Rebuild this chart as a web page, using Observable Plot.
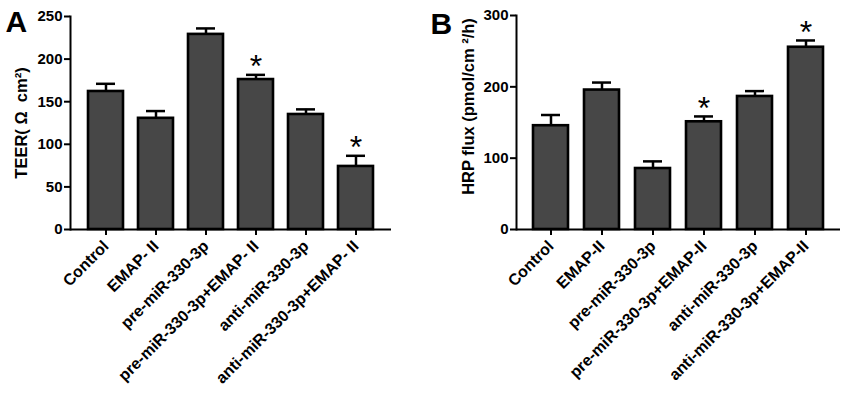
<!DOCTYPE html>
<html><head><meta charset="utf-8">
<script src="https://cdn.jsdelivr.net/npm/d3@7"></script>
<script src="https://cdn.jsdelivr.net/npm/@observablehq/plot@0.6"></script>
<style>
body{margin:0;background:#fff;}
#wrap{display:flex;width:850px;height:401px;overflow:hidden;}
#wrap svg{display:block;}
</style></head><body><div id="wrap"></div>
<script>
// Panel A: TEER
const groupsA = ["Control","EMAP- II","pre-miR-330-3p","pre-miR-330-3p+EMAP- II","anti-miR-330-3p","anti-miR-330-3p+EMAP- II"];
const teerMean  = [162, 130.5, 229, 176, 135, 74];
const teerUpper = [171, 139, 236, 181.5, 141, 86.5];
const teerSig   = [false, false, false, true, false, true];
const teerTicks = [0, 50, 100, 150, 200, 250];

// Panel B: HRP flux
const groupsB = ["Control","EMAP-II","pre-miR-330-3p","pre-miR-330-3p+EMAP-II","anti-miR-330-3p","anti-miR-330-3p+EMAP-II"];
const hrpMean  = [145.5, 195.5, 85.5, 151, 186.5, 255.5];
const hrpUpper = [160.5, 206, 95.5, 158.5, 194, 265];
const hrpSig   = [false, false, false, true, false, true];
const hrpTicks = [0, 100, 200, 300];

const FONT = "'Liberation Sans', Arial, Helvetica, sans-serif";

function panel({groups, mean, upper, sig, ticks, ymax, letter, ylabel, ml, mr, mt, labelDx, labelDy, letterDx, letterDy}) {
  const data = groups.map((g, i) => ({g, mean: mean[i], upper: upper[i], sig: sig[i]}));
  return Plot.plot({
    width: 425, height: 401,
    marginLeft: ml, marginRight: mr, marginTop: mt, marginBottom: 172,
    style: {fontFamily: FONT, fontWeight: "bold", fontSize: "15px", color: "black", background: "white", overflow: "visible"},
    x: {domain: groups, padding: 0.31, label: null},
    y: {domain: [0, ymax], label: null},
    marks: [
      Plot.ruleX(data, {x: "g", y1: "mean", y2: "upper", stroke: "black", strokeWidth: 2.5}),
      Plot.tickY(data, {x: "g", y: "upper", stroke: "black", strokeWidth: 2.5, insetLeft: 8, insetRight: 8}),
      Plot.barY(data, {x: "g", y: "mean", fill: "#474747", stroke: "black", strokeWidth: 2.6}),
      Plot.ruleY([0], {stroke: "black", strokeWidth: 2}),
      Plot.frame({anchor: "left", stroke: "black", strokeWidth: 2}),
      Plot.axisY({ticks, tickSize: 6, tickPadding: 2, strokeWidth: 2, label: null, fontWeight: "bold", fontSize: 15}),
      Plot.axisX({tickSize: 6, tickPadding: 8, tickRotate: -45, strokeWidth: 2, label: null, fontWeight: "bold", fontSize: 16}),
      Plot.text(data.filter(d => d.sig), {x: "g", y: "upper", text: () => "*", dy: -8, fontSize: 32, fontWeight: "normal", fill: "black"}),
      Plot.text([ylabel], {frameAnchor: "left", textAnchor: "middle", rotate: -90, dx: labelDx, dy: labelDy, fontSize: 16.5, fontWeight: "bold", fill: "black"}),
      Plot.text([letter], {frameAnchor: "top-left", textAnchor: "start", lineAnchor: "top", dx: letterDx, dy: letterDy, fontSize: 30, fontWeight: "bold", fill: "black"})
    ]
  });
}

const wrap = document.getElementById("wrap");
wrap.append(panel({groups: groupsA, mean: teerMean, upper: teerUpper, sig: teerSig, ticks: teerTicks, ymax: 250,
  letter: "A", ylabel: "TEER( Ω  cm²)", ml: 70, mr: 34, mt: 16, labelDx: -49, labelDy: 0, letterDx: -65, letterDy: -6}));
wrap.append(panel({groups: groupsB, mean: hrpMean, upper: hrpUpper, sig: hrpSig, ticks: hrpTicks, ymax: 300,
  letter: "B", ylabel: "HRP flux (pmol/cm ²/h)", ml: 91, mr: 10, mt: 15, labelDx: -48, labelDy: -16, letterDx: -86, letterDy: -3}));
</script></body></html>
